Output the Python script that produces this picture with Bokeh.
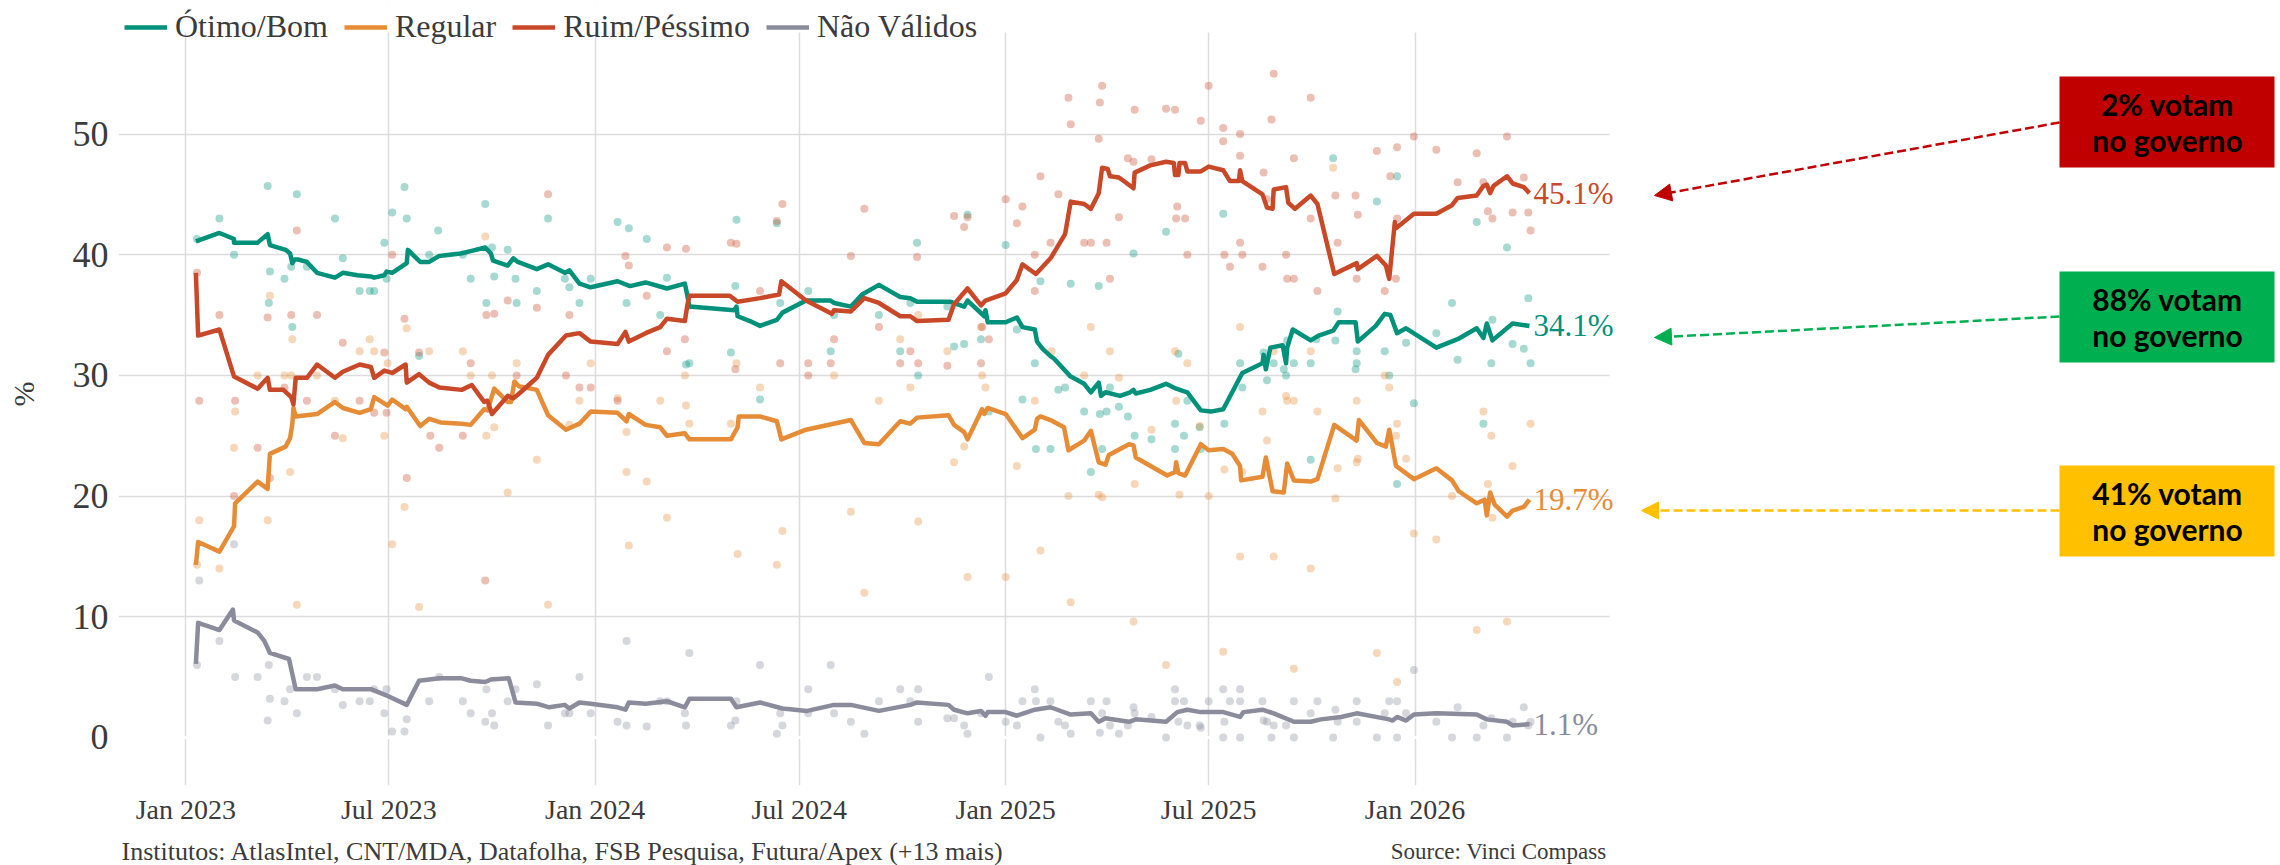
import pandas as pd
from bokeh.plotting import figure
from bokeh.layouts import column
from bokeh.models import (Range1d, DatetimeTickFormatter, FixedTicker,
                          Legend, LegendItem, Label, Arrow, NormalHead, BoxAnnotation, Span)
from bokeh.core.properties import value
from bokeh.embed import file_html
from bokeh.resources import INLINE

# ---------------- data (x = days since 2023-01-01) ----------------
ob_day = [9, 30, 43, 43, 64, 73, 75, 89, 93, 95, 97, 100, 108, 117, 133, 140, 153, 165, 168, 177,
          179, 184, 197, 198, 209, 217, 226, 245, 254, 267, 272, 274, 287, 292, 296, 313, 323, 338, 342, 351,
          361, 385, 396, 410, 429, 445, 447, 449, 489, 491, 492, 503, 512, 527, 532, 553, 575, 578, 593, 603,
          618, 637, 646, 652, 682, 694, 697, 712, 713, 715, 731, 741, 746, 757, 759, 764, 771, 774, 789, 801,
          807, 814, 816, 820, 833, 842, 845, 847, 860, 874, 883, 893, 905, 914, 925, 942, 960, 961, 963, 967,
          978, 981, 982, 987, 1003, 1010, 1023, 1028, 1043, 1045, 1061, 1069, 1074, 1080, 1088, 1115, 1134, 1151, 1157, 1160,
          1165, 1183, 1198]
ob_val = [41.1, 41.8, 41.3, 41.0, 41.0, 41.7, 40.8, 40.4, 40.1, 39.3, 39.6, 39.6, 39.4, 38.5, 38.1, 38.5, 38.3, 38.2, 38.1, 38.3,
          38.6, 38.5, 39.3, 40.4, 39.4, 39.4, 39.9, 40.1, 40.3, 40.6, 40.1, 39.5, 39.1, 39.7, 39.4, 38.8, 39.2, 38.5, 38.7, 37.6,
          37.3, 37.8, 37.4, 37.7, 37.2, 37.6, 36.7, 35.7, 35.4, 35.7, 34.9, 34.5, 34.1, 34.6, 35.2, 36.2, 36.2, 36.0, 35.7, 36.7,
          37.5, 36.5, 36.4, 36.1, 36.1, 35.7, 36.2, 34.9, 35.4, 34.4, 34.4, 34.8, 34.0, 33.8, 32.8, 32.2, 31.6, 31.4, 29.9, 29.3,
          28.6, 29.4, 28.3, 28.6, 28.3, 28.6, 28.8, 28.5, 28.8, 29.3, 28.9, 28.6, 27.1, 27.0, 27.2, 30.2, 31.0, 31.7, 30.5, 32.3,
          32.5, 31.0, 32.3, 33.8, 32.9, 33.3, 33.7, 34.4, 34.4, 32.8, 34.1, 35.1, 35.0, 33.5, 33.9, 32.3, 33.0, 33.9, 33.1, 34.3,
          32.9, 34.3, 34.1]

reg_day = [9, 11, 30, 43, 44, 64, 73, 75, 89, 93, 95, 96, 98, 117, 133, 140, 155, 165, 168, 180,
           184, 196, 197, 209, 217, 227, 246, 254, 266, 269, 275, 287, 290, 293, 297, 313, 323, 339, 351, 361,
           385, 393, 395, 410, 423, 429, 445, 449, 486, 492, 493, 512, 527, 531, 553, 593, 605, 618, 637, 646,
           652, 680, 685, 694, 697, 710, 712, 715, 731, 746, 757, 759, 762, 771, 773, 783, 787, 801, 807, 814,
           820, 823, 841, 845, 847, 875, 882, 883, 885, 891, 905, 912, 925, 933, 940, 941, 960, 963, 969, 979,
           982, 988, 1003, 1009, 1024, 1030, 1044, 1046, 1062, 1070, 1073, 1079, 1095, 1115, 1129, 1135, 1151, 1158, 1160, 1163,
           1167, 1178, 1183, 1193, 1198]
reg_val = [14.3, 16.2, 15.4, 17.5, 19.4, 21.2, 20.6, 23.5, 24.1, 24.8, 26.0, 27.3, 26.6, 26.8, 27.8, 27.3, 26.9, 27.2, 28.2, 27.5,
           28.0, 27.2, 27.4, 25.8, 26.4, 26.1, 26.0, 25.9, 27.2, 27.1, 28.9, 27.8, 27.8, 29.5, 29.1, 28.8, 26.7, 25.5, 26.0, 27.0,
           26.9, 26.2, 26.8, 25.9, 25.7, 25.0, 25.2, 24.7, 24.7, 25.7, 26.6, 26.6, 26.2, 24.7, 25.5, 26.3, 24.4, 24.3, 26.2, 26.0,
           26.5, 26.7, 25.9, 25.3, 24.7, 27.2, 26.8, 27.3, 26.8, 24.8, 25.5, 26.4, 26.6, 26.3, 26.2, 25.7, 23.8, 24.6, 25.4, 22.8,
           22.6, 23.4, 24.3, 24.2, 23.2, 21.7, 22.0, 22.8, 21.9, 21.7, 24.3, 23.8, 23.9, 23.5, 22.5, 21.3, 21.6, 23.2, 20.4, 20.3,
           22.7, 21.3, 21.2, 21.4, 25.9, 25.5, 24.6, 26.3, 24.4, 24.1, 25.5, 22.5, 21.4, 22.3, 21.3, 20.4, 19.4, 19.7, 18.4, 20.3,
           19.3, 18.3, 18.8, 19.1, 19.7]

rp_day = [9, 11, 30, 43, 64, 73, 75, 87, 94, 96, 98, 108, 117, 133, 140, 155, 165, 168, 177, 184,
          196, 197, 208, 217, 226, 246, 255, 266, 269, 273, 287, 292, 296, 313, 323, 339, 351, 361, 385, 392,
          395, 410, 423, 429, 445, 447, 449, 485, 492, 512, 529, 531, 553, 576, 578, 593, 605, 618, 637, 646,
          652, 680, 685, 697, 709, 713, 731, 741, 746, 758, 771, 784, 789, 801, 807, 814, 817, 822, 824, 832,
          845, 846, 860, 874, 881, 882, 885, 886, 891, 893, 905, 912, 925, 931, 939, 940, 942, 960, 964, 969,
          970, 981, 983, 989, 1003, 1009, 1024, 1044, 1045, 1062, 1070, 1073, 1078, 1079, 1095, 1115, 1129, 1134, 1151, 1157,
          1160, 1163, 1166, 1178, 1183, 1193, 1198]
rp_val = [38.5, 33.3, 33.8, 29.9, 28.9, 29.8, 28.8, 28.8, 28.2, 27.6, 29.8, 29.8, 30.9, 29.8, 30.3, 30.9, 30.7, 29.8, 30.4, 30.2,
          30.9, 29.4, 30.1, 29.4, 29.0, 28.8, 29.2, 27.8, 27.9, 26.8, 28.3, 28.1, 28.4, 29.8, 31.7, 33.3, 33.5, 32.8, 32.6, 33.6,
          32.8, 33.5, 34.0, 34.7, 34.5, 35.7, 36.6, 36.6, 36.1, 36.4, 36.7, 37.8, 36.2, 35.1, 35.4, 35.3, 36.4, 36.0, 34.9, 34.9,
          34.5, 34.6, 35.9, 37.2, 35.8, 36.2, 36.8, 37.9, 39.2, 38.4, 39.7, 41.7, 44.4, 44.2, 43.8, 45.1, 47.2, 47.1, 46.5, 46.4,
          45.5, 46.8, 47.4, 47.7, 47.6, 46.6, 46.6, 47.6, 47.6, 46.9, 46.9, 47.3, 47.0, 46.1, 46.1, 47.0, 46.1, 45.0, 43.9, 43.8,
          45.4, 45.6, 44.3, 43.8, 44.9, 44.2, 38.4, 39.3, 38.8, 39.9, 39.1, 38.0, 42.7, 42.2, 43.4, 43.4, 44.1, 44.7, 44.9, 45.7,
          45.8, 45.1, 45.7, 46.5, 45.9, 45.6, 45.1]

nv_day = [9, 11, 30, 42, 43, 64, 70, 75, 92, 98, 117, 133, 140, 165, 181, 197, 208, 217, 226, 246,
          254, 267, 272, 288, 294, 313, 324, 338, 342, 351, 361, 385, 392, 395, 410, 429, 445, 449, 486, 491,
          512, 532, 554, 578, 593, 618, 646, 652, 680, 685, 697, 709, 713, 715, 731, 741, 757, 771, 774, 789,
          807, 814, 820, 841, 847, 874, 884, 893, 905, 925, 940, 943, 960, 970, 988, 1003, 1012, 1030, 1044, 1073,
          1076, 1080, 1088, 1095, 1115, 1151, 1160, 1178, 1183, 1198]
nv_val = [6.1, 9.5, 8.9, 10.6, 9.7, 8.7, 8.0, 7.0, 6.5, 4.0, 4.0, 4.3, 4.0, 4.0, 3.4, 2.7, 4.7, 4.8, 4.9, 4.9,
          4.7, 4.6, 4.8, 4.9, 2.9, 2.8, 2.5, 2.7, 2.4, 2.9, 2.8, 2.5, 2.3, 2.9, 2.8, 3.0, 2.5, 3.2, 3.2, 2.5,
          2.9, 2.4, 2.2, 2.7, 2.7, 2.2, 2.7, 2.9, 2.7, 2.3, 2.0, 2.2, 1.8, 2.1, 2.1, 1.8, 2.3, 2.5, 2.4, 1.9,
          2.0, 1.3, 1.6, 1.3, 1.5, 1.3, 2.1, 2.3, 2.1, 2.1, 1.7, 2.1, 2.3, 2.0, 1.3, 1.3, 1.5, 1.7, 2.0, 1.5,
          1.4, 1.7, 1.4, 1.9, 2.0, 1.9, 1.5, 1.3, 1.0, 1.1]

# individual polls: (days since 2023-01-01, %)
ob_polls = [(10, 41.3), (30, 43.0), (43, 40.0), (73, 45.7), (75, 38.6), (74, 36.0), (88, 38.0), (95, 34.0), (94, 39.0), (99, 45.0),
            (108, 39.0), (133, 43.0), (140, 39.7), (155, 37.0), (164, 37.0), (168, 37.0), (177, 41.0), (179, 38.0), (184, 43.5),
            (195, 45.6), (197, 43.0), (208, 31.6), (217, 40.0), (225, 42.0), (247, 40.0), (254, 38.0),
            (267, 44.2), (268, 36.0), (273, 40.6), (275, 38.2), (287, 40.4), (294, 38.0), (295, 36.0), (313, 37.0), (323, 43.0),
            (338, 38.0), (342, 37.3), (351, 36.0), (361, 38.0), (385, 42.7), (393, 36.0), (395, 42.2), (411, 41.3), (423, 35.0),
            (429, 38.1), (446, 30.9), (449, 31.0), (486, 31.9), (490, 37.4), (491, 42.9), (512, 28.0),
            (527, 42.6), (530, 36.0), (555, 37.0), (575, 32.0), (578, 35.0), (618, 35.0), (637, 32.0), (646, 36.0), (652, 41.0),
            (653, 30.0), (679, 35.7), (685, 32.4), (694, 32.6), (697, 43.3), (709, 33.0), (716, 27.0), (731, 40.8), (741, 33.8),
            (746, 28.0), (757, 31.0), (758, 23.9), (762, 37.8), (771, 23.9),
            (778, 28.8), (784, 29.0), (789, 37.6), (801, 27.0), (807, 22.0), (814, 37.4), (815, 26.8), (817, 23.9), (821, 27.0),
            (824, 29.0), (832, 27.4), (840, 26.6), (845, 40.1), (846, 25.0), (861, 24.7), (874, 41.9), (882, 23.9), (882, 26.0),
            (885, 31.8), (890, 25.0), (893, 27.9), (904, 25.7), (905, 23.9), (925, 43.4), (926, 26.0), (940, 31.0), (942, 29.0),
            (961, 31.9), (964, 29.6), (970, 31.0), (979, 30.5), (981, 30.0), (982, 32.9), (988, 31.0), (1003, 31.0), (1003, 23.0),
            (1008, 33.0), (1023, 48.0), (1025, 32.9), (1027, 35.3),
            (1044, 32.0), (1044, 31.0), (1043, 30.5), (1062, 44.4), (1069, 32.0), (1073, 30.0), (1080, 46.5), (1080, 21.0),
            (1088, 32.7), (1095, 27.7), (1115, 33.5), (1129, 36.0), (1134, 31.3), (1151, 42.7), (1157, 26.0), (1164, 31.0),
            (1165, 34.6), (1178, 40.6), (1183, 32.6), (1193, 32.2), (1197, 36.4), (1199, 31.0)]

rp_polls = [(10, 38.5), (12, 27.9), (30, 35.0), (44, 27.9), (43, 20.0), (64, 24.0), (73, 34.8), (75, 21.5), (88, 29.0), (94, 35.0),
            (99, 42.0), (108, 27.9), (117, 35.0), (133, 25.0), (140, 32.7), (155, 27.9), (168, 26.9), (177, 31.9), (179, 26.9),
            (184, 40.0), (195, 34.7), (197, 21.5), (208, 31.9), (218, 25.0), (226, 24.0), (247, 25.0), (254, 31.0),
            (267, 13.0), (268, 35.0), (275, 35.1), (287, 36.2), (295, 30.0), (313, 35.6), (323, 45.0), (339, 30.0), (342, 35.0),
            (351, 29.0), (361, 29.0), (385, 27.9), (392, 39.9), (395, 39.1), (411, 36.6), (429, 40.6), (429, 32.0), (445, 33.0),
            (446, 40.5), (486, 41.0), (490, 30.5), (491, 40.9), (512, 37.0),
            (527, 42.8), (532, 44.2), (530, 31.0), (555, 31.0), (555, 30.0), (575, 31.0), (578, 33.0), (593, 39.9), (605, 43.8),
            (618, 34.0), (637, 31.0), (646, 32.0), (652, 39.8), (653, 31.0), (679, 30.8), (685, 43.2), (694, 42.3), (697, 43.1),
            (709, 31.0), (710, 34.0), (716, 33.0), (731, 44.6), (741, 42.6), (746, 44.0), (757, 40.0), (757, 37.0), (762, 46.5),
            (771, 41.0),
            (778, 45.0), (787, 53.0), (789, 50.8), (801, 41.0), (807, 41.0), (814, 49.6), (815, 52.6), (817, 54.0), (821, 41.0),
            (824, 38.0), (832, 43.1), (840, 48.0), (845, 47.7), (846, 52.0), (861, 47.9), (874, 52.1), (882, 52.0), (884, 44.0),
            (883, 43.0), (891, 43.0), (893, 40.0), (905, 51.1), (912, 54.0), (925, 50.5), (925, 49.4), (926, 40.0), (931, 39.0),
            (940, 41.0), (940, 50.0), (940, 48.2), (942, 40.0), (961, 46.8), (960, 39.0), (964, 44.6), (968, 51.2), (970, 55.0),
            (981, 40.0), (982, 38.0), (988, 38.0), (988, 48.0), (1003, 53.0), (1003, 43.0), (1009, 37.0), (1025, 44.9), (1027, 41.0),
            (1043, 44.9), (1045, 43.3), (1044, 38.0), (1062, 48.6), (1069, 37.0), (1074, 46.5), (1080, 43.0), (1079, 38.0),
            (1080, 48.9), (1095, 49.8), (1115, 48.7), (1134, 46.0), (1151, 48.4), (1157, 46.0), (1161, 43.6), (1165, 43.0),
            (1178, 49.8), (1183, 43.5), (1193, 46.4), (1197, 43.5), (1199, 42.0)]

reg_polls = [(10, 14.3), (12, 18.0), (30, 14.0), (43, 24.0), (44, 27.0), (64, 30.0), (73, 18.0), (75, 36.6), (88, 30.0), (94, 30.0),
             (95, 33.0), (93, 22.0), (99, 11.0), (117, 30.0), (133, 27.9), (140, 24.8), (155, 32.0), (164, 33.0), (168, 32.0),
             (177, 25.0), (180, 31.0), (184, 16.0), (195, 19.1), (197, 33.9), (208, 10.8), (217, 32.0), (247, 32.0), (254, 30.0),
             (267, 41.5), (268, 25.0), (273, 30.0), (275, 25.7), (287, 20.3), (295, 31.0), (313, 23.0), (323, 11.0), (342, 25.9),
             (351, 27.9), (361, 31.0), (385, 28.1), (393, 25.3), (393, 22.0), (395, 15.9), (411, 21.2), (423, 27.9), (429, 18.2),
             (445, 30.0), (446, 27.5), (449, 26.0), (486, 26.0), (491, 31.0), (492, 15.2), (512, 29.0),
             (527, 14.3), (532, 17.1), (578, 30.0), (593, 18.7), (605, 12.0), (618, 27.9), (637, 33.0), (646, 29.0), (653, 35.0),
             (653, 17.9), (679, 32.0), (685, 22.8), (694, 24.1), (697, 13.3), (709, 34.0), (710, 30.0), (713, 29.0), (731, 13.3),
             (741, 22.5), (757, 27.9), (762, 15.5),
             (772, 32.0), (787, 20.0), (789, 11.2), (801, 30.0), (807, 34.0), (814, 20.1), (817, 19.9), (824, 32.0), (832, 29.8),
             (845, 9.6), (846, 21.0), (861, 25.5), (874, 6.0), (882, 32.0), (883, 27.9), (886, 20.1), (893, 31.0), (904, 25.8),
             (912, 20.0), (925, 7.1), (926, 22.2), (940, 34.0), (940, 15.0), (942, 22.0), (960, 27.0), (964, 24.6), (970, 15.0),
             (970, 32.0), (981, 28.3), (982, 27.9), (988, 27.9), (988, 5.7), (1003, 32.0), (1003, 14.0), (1009, 27.0),
             (1023, 47.2), (1025, 19.8), (1027, 22.3),
             (1044, 27.9), (1044, 22.8), (1045, 23.1), (1062, 7.0), (1069, 30.0), (1073, 29.0), (1080, 26.0), (1079, 25.0),
             (1080, 4.6), (1088, 23.1), (1095, 16.9), (1115, 16.4), (1129, 20.0), (1151, 8.9), (1157, 27.0), (1161, 21.0),
             (1164, 25.0), (1165, 18.2), (1178, 9.6), (1183, 22.5), (1199, 26.0)]

nv_polls = [(10, 6.0), (12, 13.0), (30, 8.0), (43, 16.0), (44, 5.0), (64, 5.0), (73, 1.4), (74, 6.0), (75, 3.2), (88, 3.0),
            (93, 4.0), (99, 2.0), (108, 5.0), (117, 5.0), (133, 4.0), (140, 2.7), (155, 3.0), (164, 3.0), (168, 4.0), (177, 2.0),
            (179, 4.0), (184, 0.5), (195, 0.5), (197, 1.5), (217, 3.0), (226, 5.0), (247, 3.0), (254, 2.0),
            (267, 1.3), (268, 4.0), (273, 2.0), (275, 1.0), (287, 3.0), (294, 4.0), (313, 4.4), (323, 1.0), (338, 2.0), (342, 2.0),
            (351, 5.0), (361, 2.0), (385, 1.3), (393, 8.0), (393, 1.0), (411, 0.9), (423, 3.0), (429, 3.0), (445, 2.0), (446, 1.0),
            (449, 7.0), (486, 1.0), (490, 1.4), (491, 3.0), (512, 6.0),
            (527, 0.3), (530, 2.0), (532, 1.0), (555, 4.0), (555, 2.0), (575, 6.0), (578, 2.0), (593, 1.3), (605, 0.3), (618, 3.0),
            (637, 4.0), (646, 3.0), (653, 4.0), (653, 1.3), (679, 1.6), (685, 1.6), (694, 1.0), (697, 0.3), (709, 2.0), (716, 5.0),
            (731, 1.3), (741, 1.0), (746, 3.0), (757, 4.0), (758, 3.0), (762, 0.0), (771, 3.0),
            (778, 1.3), (784, 1.0), (789, 0.3), (807, 3.0), (815, 0.4), (817, 2.0), (821, 3.0), (824, 1.0), (832, 0.3), (840, 1.0),
            (845, 2.5), (846, 2.0), (861, 1.7), (874, 0.0), (882, 4.0), (882, 3.0), (885, 1.3), (890, 3.0), (893, 1.0), (904, 1.0),
            (905, 0.8), (912, 3.0), (925, 4.0), (926, 1.3), (925, 0.0), (931, 3.0), (940, 4.0), (940, 3.0), (940, 0.0), (960, 3.0),
            (961, 1.4), (964, 1.3), (968, 0.0), (970, 1.0), (981, 1.0), (988, 3.0), (988, 0.0), (1003, 2.0), (1009, 3.0),
            (1023, 0.0), (1025, 2.3), (1027, 1.3),
            (1044, 3.0), (1044, 1.3), (1062, 0.0), (1069, 2.0), (1073, 3.0), (1080, 3.0), (1080, 0.0), (1088, 2.0), (1095, 5.6),
            (1115, 1.3), (1134, 2.5), (1129, 0.0), (1151, 0.0), (1157, 1.0), (1164, 1.6), (1178, 0.0), (1183, 1.3), (1193, 2.5),
            (1197, 1.0), (1199, 1.3)]

series_names = ["Ótimo/Bom", "Regular", "Ruim/Péssimo", "Não Válidos"]
series_colors = ["#00917A", "#E68C37", "#C84828", "#8A8C9C"]

y_ticks = [0, 10, 20, 30, 40, 50]
x_tick_dates = ["2023-01-01", "2023-07-01", "2024-01-01", "2024-07-01", "2025-01-01", "2025-07-01", "2026-01-01"]

footer_text = "Institutos: AtlasIntel, CNT/MDA, Datafolha, FSB Pesquisa, Futura/Apex (+13 mais)"
source_text = "Source: Vinci Compass"

notes = ["2% votam\nno governo", "88% votam\nno governo", "41% votam\nno governo"]
note_colors = ["#C00000", "#00B050", "#FFC000"]

# ---------------- geometry (page pixels; Bokeh's page has no body margin) ----------------
BASE = pd.Timestamp("2023-01-01")
DAY_MS = 86400000.0
BASE_MS = BASE.value / 1e6


def to_dt(days):
    return BASE + pd.to_timedelta(days, unit="D")


W = 2280
H_MAIN, H_FOOT = 838, 27
# visible chart window in page pixels and its data extent
VL, VR, VT, VB = 118, 1609, 32, 785
D_LEFT, D_RIGHT = -60.0, 1269.4        # days at VL / VR
Y_VTOP, Y_BOT = 58.41, -3.98           # values at VT / VB
DPP = (D_RIGHT - D_LEFT) / (VR - VL)   # days per pixel
VPP = (Y_VTOP - Y_BOT) / (VB - VT)     # value per pixel


def PX(px):
    return BASE_MS + (D_LEFT + (px - VL) * DPP) * DAY_MS


def PY(py):
    return Y_VTOP - (py - VT) * VPP


FRAME_T = 2
SERIF = "Liberation Serif"
TXT = "#3B3B3B"

p = figure(x_axis_type="datetime", x_range=Range1d(PX(VL), PX(W)), y_range=Range1d(Y_BOT, PY(FRAME_T)),
           width=W, height=H_MAIN,
           min_border_left=VL, min_border_right=0, min_border_top=FRAME_T,
           min_border_bottom=H_MAIN - VB,
           output_backend="svg", toolbar_location=None)
p.outline_line_color = None
p.background_fill_color = "white"
p.border_fill_color = "white"

p.xaxis.ticker = FixedTicker(ticks=[pd.Timestamp(d).value / 1e6 for d in x_tick_dates])
p.xaxis.formatter = DatetimeTickFormatter(months="%b %Y", days="%b %Y", years="%b %Y", hours="%b %Y")
p.yaxis.ticker = FixedTicker(ticks=y_ticks)
for ax in (p.xaxis, p.yaxis):
    ax.axis_line_color = None
    ax.major_tick_line_color = None
    ax.minor_tick_line_color = None
    ax.major_tick_out = 0
    ax.major_tick_in = 0
    ax.major_label_text_font = SERIF
    ax.major_label_text_color = TXT
p.xaxis.major_label_text_font_size = "28px"
p.xaxis.major_label_standoff = 8
p.yaxis.major_label_text_font_size = "36px"
p.yaxis.major_label_standoff = 10
p.yaxis.axis_label = "%"
p.yaxis.axis_label_text_font = SERIF
p.yaxis.axis_label_text_font_style = "normal"
p.yaxis.axis_label_text_font_size = "30px"
p.yaxis.axis_label_text_color = TXT
p.yaxis.axis_label_standoff = 30

p.xgrid.grid_line_color = "#DCDCDC"
p.xgrid.grid_line_width = 1.5
p.ygrid.ticker = FixedTicker(ticks=y_ticks[1:])
p.ygrid.grid_line_color = "#DCDCDC"
p.ygrid.grid_line_width = 1.5
# white masks so the grid only covers the chart window, white line at 0
p.add_layout(BoxAnnotation(bottom=Y_VTOP, fill_color="white", fill_alpha=1, line_alpha=0, level="underlay"))
p.add_layout(BoxAnnotation(left=PX(VR), fill_color="white", fill_alpha=1, line_alpha=0, level="underlay"))
p.add_layout(Span(location=0, dimension="width", line_color="white", line_width=3, level="underlay"))

trend_days = [ob_day, reg_day, rp_day, nv_day]
trend_vals = [ob_val, reg_val, rp_val, nv_val]
polls = [ob_polls, reg_polls, rp_polls, nv_polls]

for pts, col in zip(polls, series_colors):
    p.scatter(x=to_dt([d for d, v in pts]), y=[v for d, v in pts], size=8,
              fill_color=col, fill_alpha=0.35, line_alpha=0)

items = []
for name, d, v, col in zip(series_names, trend_days, trend_vals, series_colors):
    r = p.line(x=to_dt(d), y=v, line_color=col, line_width=4.5, line_join="round")
    items.append(LegendItem(label=name, renderers=[r]))

# end-of-line labels
for d, v, col in zip(trend_days, trend_vals, series_colors):
    p.add_layout(Label(x=BASE_MS + d[-1] * DAY_MS, y=v[-1], text=f"{v[-1]:.1f}%", x_offset=4,
                       text_baseline="middle", text_align="left", text_color=col,
                       text_font=SERIF, text_font_size="31px"))

legend = Legend(items=items, orientation="horizontal", location="top_left",
                label_text_font=SERIF, label_text_font_size="32px", label_text_color=TXT,
                glyph_width=43, glyph_height=36, label_height=36, label_standoff=8, spacing=16,
                padding=0, margin=6, border_line_alpha=0, background_fill_alpha=0)
p.add_layout(legend)

# annotation boxes and arrows
box_tops = [76, 271, 465]
box_h = 91
arrow_start_y = [122, 316, 510]
arrow_end = [(1654, 195), (1654, 337), (1641, 510)]
for note, col, top, sy, (ex, ey) in zip(notes, note_colors, box_tops, arrow_start_y, arrow_end):
    p.add_layout(Arrow(x_start=PX(2059), y_start=PY(sy), x_end=PX(ex), y_end=PY(ey),
                       line_color=col, line_width=2.5, line_dash="9 4",
                       end=NormalHead(size=17, fill_color=col, line_color=col, line_width=1)))
    p.add_layout(BoxAnnotation(left=PX(2059), right=PX(2274), top=PY(top), bottom=PY(top + box_h),
                               fill_color=col, fill_alpha=1.0, line_alpha=0, level="overlay"))
    p.add_layout(Label(x=PX(2167), y=PY(top + box_h / 2), text=note, text_align="center",
                       text_baseline="middle", text_font="Lato", text_font_style="bold",
                       text_font_size="30px", text_color="black", text_line_height=1.0,
                       level="overlay"))

# footer strip (page-pixel coordinates, frame aligned with the main chart)
FT_TOP = H_MAIN
ft = figure(width=W, height=H_FOOT, x_range=Range1d(VL, W), y_range=Range1d(FT_TOP + H_FOOT, FT_TOP),
            min_border_left=VL, min_border_right=0, min_border_top=0, min_border_bottom=0,
            x_axis_location=None, y_axis_location=None,
            output_backend="svg", toolbar_location=None)
ft.outline_line_color = None
ft.grid.visible = False
ft.text(x=[121], y=[851], text=[footer_text], text_align="left", text_baseline="middle",
        text_font=value(SERIF), text_font_size="26px", text_color=TXT)
ft.text(x=[1606], y=[851], text=[source_text], text_align="right", text_baseline="middle",
        text_font=value(SERIF), text_font_size="23px", text_color=TXT)

layout = column(p, ft, spacing=0)
open("out.html", "w").write(file_html(layout, INLINE))
